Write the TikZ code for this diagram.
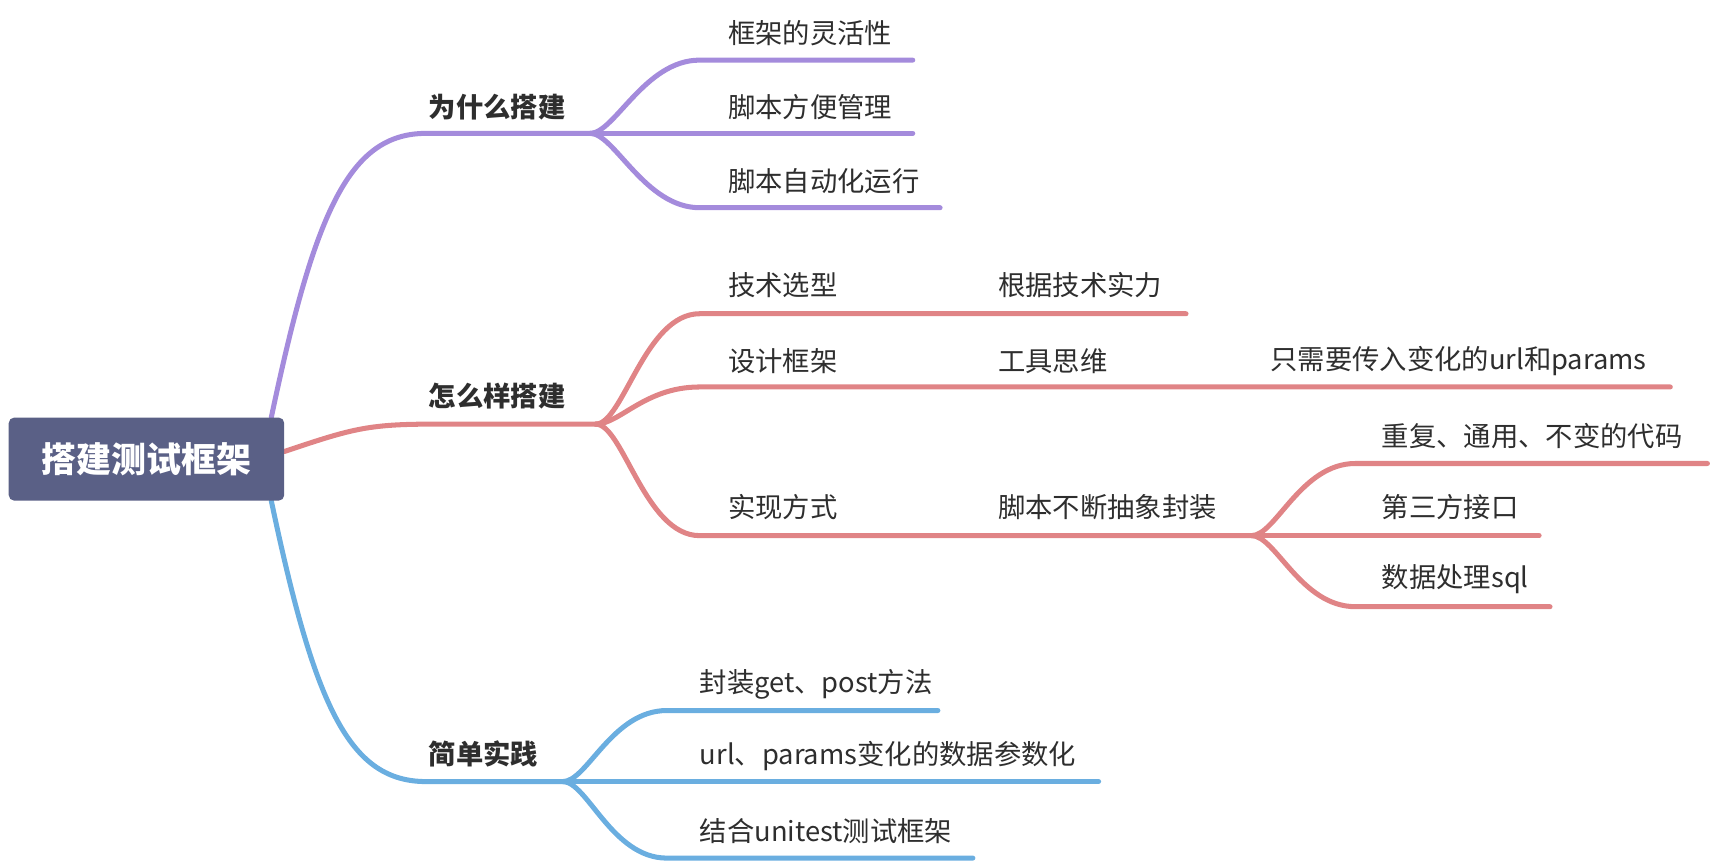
\documentclass[tikz,border=0pt]{standalone}
\usepackage{fontspec}
\setmainfont{Noto Sans CJK SC}
\usetikzlibrary{positioning,backgrounds}

\definecolor{rootfill}{HTML}{5A6086}
\definecolor{whycol}{HTML}{A48BDC}
\definecolor{howcol}{HTML}{E08486}
\definecolor{docol}{HTML}{6AAEE0}
\definecolor{txt}{HTML}{2E2E2E}

\tikzset{
  rootbox/.style={fill=rootfill, rounded corners=5pt, minimum width=252pt, minimum height=76pt,
    text=white, font=\fontsize{32}{38}\selectfont\bfseries},
  topic/.style={anchor=west, inner sep=0pt, text=txt, font=\fontsize{25}{30}\selectfont\bfseries},
  leaf/.style={anchor=west, inner sep=0pt, text=txt, font=\fontsize{25}{30}\selectfont},
  branch/.style={line width=4.6pt, line cap=round},
}

\begin{document}
\begin{tikzpicture}[x=1pt,y=-1pt]
    \useasboundingbox (0,0) rectangle (1568,790);

    \node[rootbox] (root) at (134,420) {搭建测试框架};

    % 为什么搭建
    \coordinate (why-s) at (390,122);
    \coordinate (why-e) at (540,122);
    \node[topic] (why) at (392,98) {为什么搭建};
    \coordinate (flex-s) at (640,55);   \coordinate (flex-e) at (835,55);
    \coordinate (mgmt-e) at (835,122);
    \coordinate (auto-s) at (640,190);  \coordinate (auto-e) at (860,190);
    \node[leaf] (flex) at (666,30) {框架的灵活性};
    \node[leaf] (mgmt) at (666,98) {脚本方便管理};
    \node[leaf] (auto) at (666,166) {脚本自动化运行};

    % 怎么样搭建
    \coordinate (how-s) at (395,388);
    \coordinate (how-e) at (545,388);
    \node[topic] (how) at (392,362) {怎么样搭建};
    \coordinate (tech-s) at (640,287);   \coordinate (tech-e) at (890,287);   \coordinate (basis-e) at (1085,287);
    \coordinate (design-s) at (640,354); \coordinate (design-e) at (890,354); \coordinate (tool-e) at (1140,354); \coordinate (only-e) at (1528,354);
    \coordinate (impl-s) at (640,490);   \coordinate (impl-e) at (890,490);   \coordinate (wrap-e) at (1145,490);
    \node[leaf] (tech) at (666,261) {技术选型};
    \node[leaf] (basis) at (913,261) {根据技术实力};
    \node[leaf] (design) at (666,330) {设计框架};
    \node[leaf] (tool) at (913,330) {工具思维};
    \node[leaf] (only) at (1162,330) {只需要传入变化的url和params};
    \node[leaf] (impl) at (666,464) {实现方式};
    \node[leaf] (wrap) at (913,464) {脚本不断抽象封装};
    \coordinate (repeat-s) at (1240,424); \coordinate (repeat-e) at (1562,424);
    \coordinate (api-e) at (1408,490);
    \coordinate (data-s) at (1240,555);   \coordinate (data-e) at (1418,555);
    \node[leaf] (repeat) at (1264,399) {重复、通用、不变的代码};
    \node[leaf] (api) at (1264,464) {第三方接口};
    \node[leaf] (data) at (1264,530) {数据处理sql};

    % 简单实践
    \coordinate (do-s) at (390,715);
    \coordinate (do-e) at (515,715);
    \node[topic] (do) at (392,690) {简单实践};
    \coordinate (get-s) at (610,650);  \coordinate (get-e) at (858,650);
    \coordinate (url-e) at (1005,715);
    \coordinate (unit-s) at (610,785); \coordinate (unit-e) at (890,785);
    \node[leaf] (get) at (640,626) {封装get、post方法};
    \node[leaf] (url) at (640,692) {url、params变化的数据参数化};
    \node[leaf] (unit) at (640,760) {结合unitest测试框架};

    \begin{scope}[on background layer]
        \draw[branch, whycol] ([xshift=-12pt]root.north east) .. controls +(40,-190) and +(-70,0) .. (why-s) -- (why-e);
        \draw[branch, whycol] (why-e) .. controls +(22,0) and +(-50,0) .. (flex-s) -- (flex-e);
        \draw[branch, whycol] (why-e) -- (mgmt-e);
        \draw[branch, whycol] (why-e) .. controls +(22,0) and +(-50,0) .. (auto-s) -- (auto-e);

        \draw[branch, howcol] ([yshift=7pt]root.east) .. controls +(60,-20) and +(-60,0) .. (how-s) -- (how-e);
        \draw[branch, howcol] (how-e) .. controls +(25,0) and +(-50,0) .. (tech-s) -- (tech-e) -- (basis-e);
        \draw[branch, howcol] (how-e) .. controls +(22,0) and +(-50,0) .. (design-s) -- (design-e) -- (tool-e) -- (only-e);
        \draw[branch, howcol] (how-e) .. controls +(25,0) and +(-50,0) .. (impl-s) -- (impl-e) -- (wrap-e);
        \draw[branch, howcol] (wrap-e) .. controls +(22,0) and +(-50,0) .. (repeat-s) -- (repeat-e);
        \draw[branch, howcol] (wrap-e) -- (api-e);
        \draw[branch, howcol] (wrap-e) .. controls +(22,0) and +(-50,0) .. (data-s) -- (data-e);

        \draw[branch, docol] ([xshift=-12pt]root.south east) .. controls +(40,190) and +(-70,0) .. (do-s) -- (do-e);
        \draw[branch, docol] (do-e) .. controls +(22,0) and +(-50,0) .. (get-s) -- (get-e);
        \draw[branch, docol] (do-e) -- (url-e);
        \draw[branch, docol] (do-e) .. controls +(22,0) and +(-50,0) .. (unit-s) -- (unit-e);
    \end{scope}
\end{tikzpicture}
\end{document}
